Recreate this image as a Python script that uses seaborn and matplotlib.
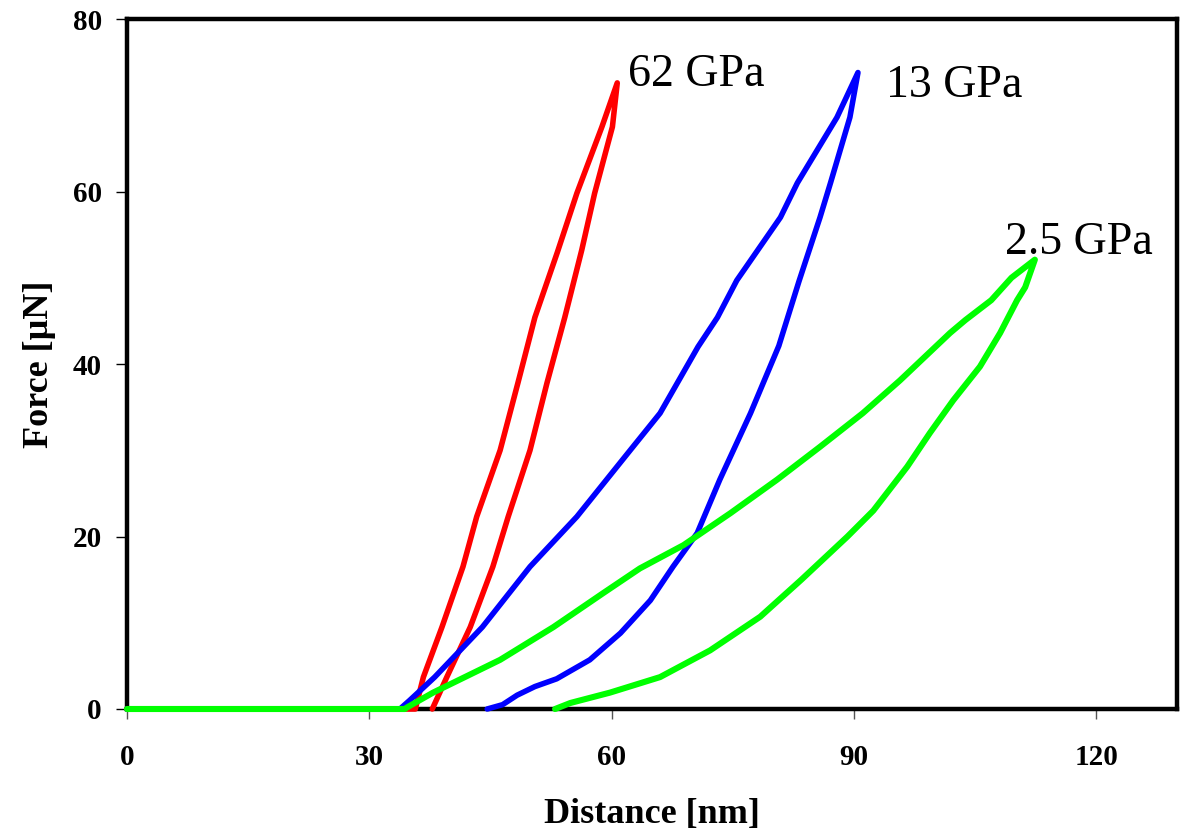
import matplotlib
matplotlib.use("Agg")
import matplotlib.pyplot as plt
import pandas as pd
import seaborn as sns

# values (distance nm, force uN)
RED_LOAD_X = [0, 35.7, 36.7, 39.0, 41.6, 43.3, 46.2, 48.4, 50.5, 53.3, 55.7, 58.8, 60.7]
RED_LOAD_Y = [0, 0, 3.7, 9.5, 16.5, 22.3, 30.0, 37.8, 45.4, 53.0, 59.8, 67.5, 72.6]
RED_UNLOAD_X = [60.7, 60.1, 57.9, 56.3, 54.2, 52.0, 49.9, 47.2, 45.3, 42.5, 39.6, 37.8]
RED_UNLOAD_Y = [72.6, 67.5, 59.8, 53.2, 45.4, 37.8, 30.0, 22.3, 16.5, 9.5, 3.7, 0]

BLUE_LOAD_X = [0, 33.8, 35.0, 38.1, 44.0, 49.9, 55.7, 62.3, 66.0, 70.7, 73.1, 75.5, 80.9, 83.0, 87.9, 90.5]
BLUE_LOAD_Y = [0, 0, 1.0, 3.7, 9.5, 16.5, 22.3, 30.0, 34.3, 42.0, 45.4, 49.7, 57.0, 61.0, 68.6, 73.8]
BLUE_UNLOAD_X = [90.5, 89.5, 87.1, 85.8, 83.2, 80.7, 77.2, 73.4, 70.6, 67.6, 64.8, 61.1, 57.3, 53.2, 50.5, 48.3, 46.5, 44.6]
BLUE_UNLOAD_Y = [73.8, 68.6, 61.0, 57.0, 49.6, 42.1, 34.3, 26.6, 20.4, 16.5, 12.6, 8.8, 5.7, 3.5, 2.6, 1.6, 0.5, 0]

GREEN_LOAD_X = [0, 34.4, 34.7, 37.9, 46.2, 52.8, 58.9, 63.5, 68.9, 74.7, 80.5, 85.8, 91.1, 95.7, 101.9, 103.8, 107.0, 109.5, 112.4]
GREEN_LOAD_Y = [0, 0, 0.2, 1.9, 5.7, 9.5, 13.4, 16.3, 19.0, 22.7, 26.6, 30.4, 34.3, 38.1, 43.6, 45.1, 47.4, 50.0, 52.1]
GREEN_UNLOAD_X = [112.4, 111.2, 110.2, 108.1, 105.6, 102.3, 99.4, 96.6, 92.4, 89.2, 83.5, 78.4, 72.2, 66.0, 59.8, 54.9, 53.0]
GREEN_UNLOAD_Y = [52.1, 48.9, 47.4, 43.6, 39.7, 35.8, 32.0, 28.1, 23.0, 20.0, 15.0, 10.7, 6.8, 3.7, 1.9, 0.7, 0]

LABELS = ["62 GPa", "13 GPa", "2.5 GPa"]
LABEL_X = [62.0, 94.0, 108.7]
LABEL_Y = [73.5, 72.3, 54.1]

X_TICKS = [0, 30, 60, 90, 120]
Y_TICKS = [0, 20, 40, 60, 80]


def curve(lx, ly, ux, uy):
    return pd.DataFrame({"distance": lx + ux, "force": ly + uy})


sns.set_theme(style="white")
plt.rcParams["font.family"] = ["Liberation Serif", "DejaVu Serif"]
plt.rcParams["text.color"] = "black"
plt.rcParams["axes.labelcolor"] = "black"
plt.rcParams["xtick.color"] = "black"
plt.rcParams["ytick.color"] = "black"

fig = plt.figure(figsize=(11.82, 8.35), dpi=100)
ax = fig.add_axes([0.1074, 0.1509, 0.8884, 0.8263])

curves = [
    (curve(RED_LOAD_X, RED_LOAD_Y, RED_UNLOAD_X, RED_UNLOAD_Y), "#ff0000", 4.0),
    (curve(BLUE_LOAD_X, BLUE_LOAD_Y, BLUE_UNLOAD_X, BLUE_UNLOAD_Y), "#0000ff", 4.0),
    (curve(GREEN_LOAD_X, GREEN_LOAD_Y, GREEN_UNLOAD_X, GREEN_UNLOAD_Y), "#00ff00", 4.4),
]
for df, col, lw in curves:
    sns.lineplot(data=df, x="distance", y="force", sort=False, estimator=None,
                 color=col, lw=lw, ax=ax, clip_on=False, zorder=3,
                 solid_capstyle="round", solid_joinstyle="round")

for txt, x, y in zip(LABELS, LABEL_X, LABEL_Y):
    ax.text(x, y, txt, fontsize=33, va="center", ha="left", color="black")

ax.set_xlim(0, 130)
ax.set_ylim(0, 80)
ax.set_xticks(X_TICKS)
ax.set_yticks(Y_TICKS)
for lab in ax.get_xticklabels() + ax.get_yticklabels():
    lab.set_fontweight("bold")
    lab.set_fontsize(21)
ax.tick_params(axis="x", direction="out", length=7, width=1, color="#555555",
               labelcolor="black", pad=18, bottom=True)
ax.tick_params(axis="y", direction="out", length=8, width=1, color="black",
               labelcolor="black", pad=10, left=True)

ax.set_xlabel("Distance [nm]", fontsize=26, fontweight="bold", labelpad=20, color="black")
ax.set_ylabel("Force [µN]", fontsize=26, fontweight="bold", labelpad=12, color="black")

for sp in ax.spines.values():
    sp.set_visible(True)
    sp.set_color("black")
    sp.set_linewidth(3.2)

fig.savefig("out.png", dpi=100)
